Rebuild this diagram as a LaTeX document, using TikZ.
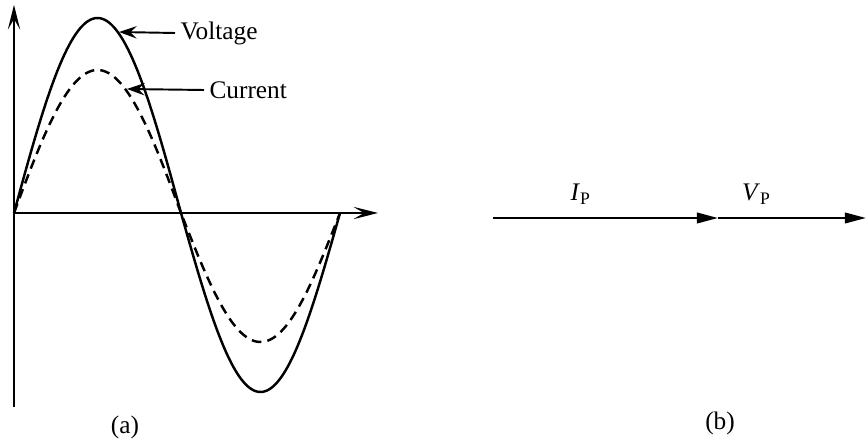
\documentclass[tikz,border=0pt]{standalone}
\usepackage{fontspec}
\setmainfont{Liberation Serif}
\usetikzlibrary{arrows.meta, positioning}

\begin{document}
\begin{tikzpicture}[
  x=0.02cm, y=-0.02cm,
  font=\fontsize{14.4}{17}\selectfont,
  axis/.style={line width=0.8pt,-{Stealth[length=14pt,width=7pt,inset=6pt]}},
  volt/.style={line width=1.4pt},
  curr/.style={line width=1.4pt,dash pattern=on 5.5pt off 3.5pt},
  ptr/.style={line width=1.1pt,-{Stealth[length=10pt,width=7pt,inset=3.5pt]}},
  phasor/.style={line width=1.2pt,-{Triangle[length=12pt,width=6pt]}},
  lbl/.style={inner sep=3pt}
]
  \useasboundingbox (0,0) rectangle (867,442);

  % (a) waveforms
  \coordinate (O) at (14,213);
  \coordinate (ytop) at (14,5);
  \coordinate (ybot) at (14,407);
  \coordinate (xend) at (378,213);
  \draw[axis] (ybot)--(ytop);
  \draw[axis] (O)--(xend);

  \draw[volt] plot[domain=14:181,samples=80,smooth] (\x,{213-195*sin((\x-14)/167*180)})
    -- plot[domain=181:340,samples=80,smooth] (\x,{213+179*sin((\x-181)/159*180)});
  \draw[curr] plot[domain=14:181,samples=80,smooth] (\x,{213-143*sin((\x-14)/167*180)})
    -- plot[domain=181:340,samples=80,smooth] (\x,{213+129*sin((\x-181)/159*180)});

  \node[lbl,anchor=west] (vlab) at (175,33) {Voltage};
  \node[lbl,anchor=west] (clab) at (204,90) {Current};
  \coordinate (vtip) at (119,32);
  \coordinate (ctip) at (127,89);
  \draw[ptr] (vlab.west)--(vtip);
  \draw[ptr] (clab.west)--(ctip);

  \node (cap-a) at (125,427) {(a)};

  % (b) phasors
  \coordinate (p0) at (493,218);
  \coordinate (p1) at (718,218);
  \coordinate (p2) at (866,218);
  \draw[phasor] (p0)--node[lbl,above=4pt,pos=0.39] (ilab) {\textit{I}\textsubscript{P}}(p1);
  \draw[phasor] (p1)--node[lbl,above=4pt,pos=0.26] (vplab) {\textit{V}\textsubscript{P}}(p2);

  \node (cap-b) at (720,423) {(b)};
\end{tikzpicture}
\end{document}
